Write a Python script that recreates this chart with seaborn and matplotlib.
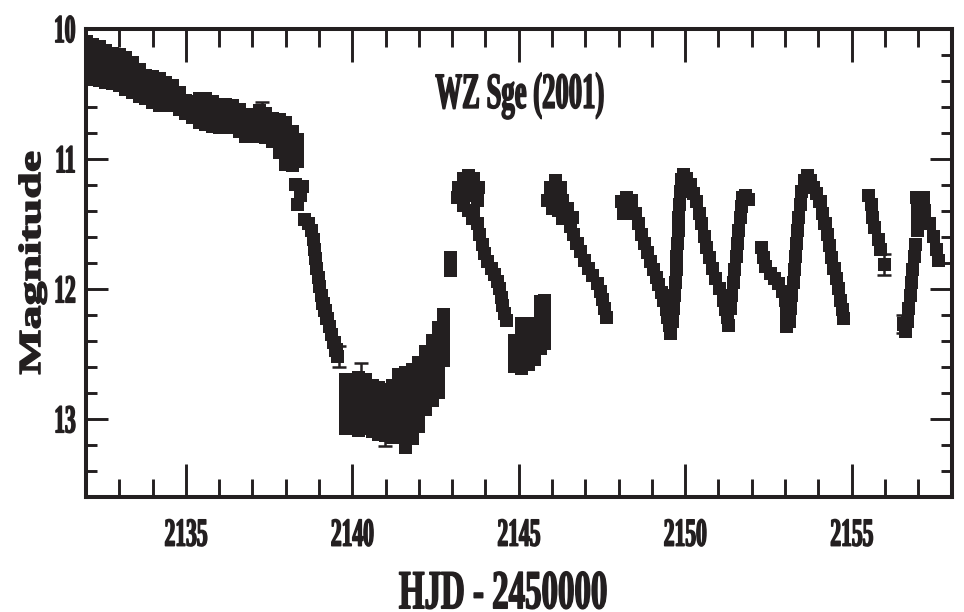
import matplotlib
matplotlib.use("Agg")
import matplotlib.pyplot as plt
import numpy as np
import pandas as pd
import seaborn as sns
from matplotlib.patheffects import AbstractPathEffect
from matplotlib.transforms import Affine2D
from matplotlib.ticker import MultipleLocator

INK = "#231f20"

# WZ Sge 2001 superoutburst: (HJD - 2450000, magnitude) pairs, one list per stretch
plateau = [
    (2132.0, 10.10), (2132.0, 10.20), (2132.0, 10.30), (2132.0, 10.38),
    (2132.2, 10.12), (2132.2, 10.22), (2132.2, 10.31), (2132.2, 10.39),
    (2132.4, 10.14), (2132.4, 10.23), (2132.4, 10.32), (2132.4, 10.40),
    (2132.6, 10.17), (2132.6, 10.25), (2132.6, 10.33), (2132.6, 10.41),
    (2132.8, 10.19), (2132.8, 10.27), (2132.8, 10.35), (2132.8, 10.42),
    (2133.0, 10.20), (2133.0, 10.29), (2133.0, 10.37), (2133.0, 10.44),
    (2133.2, 10.22), (2133.2, 10.31), (2133.2, 10.39), (2133.2, 10.47),
    (2133.4, 10.26), (2133.4, 10.34), (2133.4, 10.42), (2133.4, 10.49),
    (2133.6, 10.31), (2133.6, 10.38), (2133.6, 10.45), (2133.6, 10.52),
    (2133.8, 10.36), (2133.8, 10.42), (2133.8, 10.48), (2133.8, 10.54),
    (2134.0, 10.37), (2134.0, 10.44), (2134.0, 10.51), (2134.0, 10.57),
    (2134.2, 10.38), (2134.2, 10.46), (2134.2, 10.53), (2134.2, 10.59),
    (2134.4, 10.41), (2134.4, 10.48), (2134.4, 10.54), (2134.4, 10.59),
    (2134.6, 10.44), (2134.6, 10.50), (2134.6, 10.55), (2134.6, 10.59),
    (2134.8, 10.49), (2134.8, 10.54), (2134.8, 10.58), (2134.8, 10.62),
    (2135.0, 10.55), (2135.0, 10.60), (2135.0, 10.65),
    (2135.2, 10.56), (2135.2, 10.62), (2135.2, 10.68),
    (2135.4, 10.54), (2135.4, 10.63), (2135.4, 10.72),
    (2135.6, 10.54), (2135.6, 10.64), (2135.6, 10.74),
    (2135.8, 10.56), (2135.8, 10.65), (2135.8, 10.75),
    (2136.0, 10.58), (2136.0, 10.67), (2136.0, 10.76),
    (2136.2, 10.58), (2136.2, 10.67), (2136.2, 10.76),
    (2136.4, 10.59), (2136.4, 10.68), (2136.4, 10.76),
    (2136.6, 10.62), (2136.6, 10.71), (2136.6, 10.79),
    (2136.8, 10.66), (2136.8, 10.74), (2136.8, 10.83),
    (2137.0, 10.66), (2137.0, 10.74), (2137.0, 10.83),
    (2137.2, 10.63), (2137.2, 10.72), (2137.2, 10.82),
    (2137.4, 10.65), (2137.4, 10.74), (2137.4, 10.84),
    (2137.6, 10.69), (2137.6, 10.78), (2137.6, 10.87),
    (2137.8, 10.70), (2137.8, 10.79), (2137.8, 10.87), (2137.8, 10.95),
    (2138.0, 10.72), (2138.0, 10.82), (2138.0, 10.93), (2138.0, 11.04),
    (2138.2, 10.79), (2138.2, 10.88), (2138.2, 10.97), (2138.2, 11.05),
    (2138.35, 10.85), (2138.35, 10.94), (2138.35, 11.02),
]

decline = [
    (2138.30, 11.20), (2138.45, 11.28), (2138.35, 11.35), (2138.50, 11.21),
    (2138.55, 11.47), (2138.68, 11.50), (2138.78, 11.55), (2138.84, 11.62),
    (2138.87, 11.70), (2138.90, 11.77), (2138.93, 11.84), (2138.97, 11.91),
    (2139.01, 11.98), (2139.06, 12.05), (2139.12, 12.11), (2139.18, 12.17),
    (2139.24, 12.23), (2139.31, 12.29), (2139.38, 12.35), (2139.45, 12.41),
    (2139.51, 12.47), (2139.56, 12.52),
]

dip = [
    (2139.8, 12.70), (2139.8, 12.80), (2139.8, 12.90), (2139.8, 13.00), (2139.8, 13.07),
    (2140.0, 12.70), (2140.0, 12.79), (2140.0, 12.88), (2140.0, 12.97), (2140.0, 13.06),
    (2140.2, 12.68), (2140.2, 12.77), (2140.2, 12.86), (2140.2, 12.95), (2140.2, 13.04), (2140.2, 13.09),
    (2140.4, 12.70), (2140.4, 12.80), (2140.4, 12.89), (2140.4, 12.98), (2140.4, 13.07),
    (2140.6, 12.74), (2140.6, 12.83), (2140.6, 12.92), (2140.6, 13.01), (2140.6, 13.10),
    (2140.8, 12.76), (2140.8, 12.85), (2140.8, 12.94), (2140.8, 13.03), (2140.8, 13.12),
    (2141.0, 12.77), (2141.0, 12.86), (2141.0, 12.95), (2141.0, 13.04), (2141.0, 13.13),
    (2141.2, 12.74), (2141.2, 12.83), (2141.2, 12.92), (2141.2, 13.01), (2141.2, 13.10), (2141.2, 13.14),
    (2141.4, 12.66), (2141.4, 12.75), (2141.4, 12.84), (2141.4, 12.93), (2141.4, 13.02), (2141.4, 13.11),
    (2141.6, 12.64), (2141.6, 12.73), (2141.6, 12.82), (2141.6, 12.91), (2141.6, 13.00), (2141.6, 13.09),
    (2141.6, 13.18), (2141.6, 13.22),
    (2141.8, 12.62), (2141.8, 12.71), (2141.8, 12.80), (2141.8, 12.89), (2141.8, 12.98), (2141.8, 13.07),
    (2141.8, 13.15),
    (2142.0, 12.57), (2142.0, 12.66), (2142.0, 12.75), (2142.0, 12.84), (2142.0, 12.93), (2142.0, 13.02),
    (2142.0, 13.06),
    (2142.2, 12.48), (2142.2, 12.57), (2142.2, 12.66), (2142.2, 12.75), (2142.2, 12.84), (2142.2, 12.93),
    (2142.4, 12.40), (2142.4, 12.49), (2142.4, 12.58), (2142.4, 12.67), (2142.4, 12.76), (2142.4, 12.86),
    (2142.6, 12.30), (2142.6, 12.40), (2142.6, 12.50), (2142.6, 12.60), (2142.6, 12.70), (2142.6, 12.80),
    (2142.75, 12.20), (2142.75, 12.28), (2142.75, 12.36), (2142.75, 12.45), (2142.75, 12.55),
    (2142.95, 11.76), (2142.95, 11.86),
]

echo1 = [
    (2143.15, 11.30), (2143.20, 11.22), (2143.35, 11.15), (2143.50, 11.13), (2143.65, 11.15),
    (2143.80, 11.22), (2143.30, 11.30), (2143.55, 11.26), (2143.75, 11.32),
    (2143.35, 11.36), (2143.50, 11.40), (2143.60, 11.46), (2143.40, 11.28), (2143.45, 11.21),
    (2143.65, 11.42), (2143.75, 11.50), (2143.82, 11.58), (2143.90, 11.66), (2143.98, 11.73),
    (2144.07, 11.79), (2144.17, 11.84), (2144.26, 11.89), (2144.35, 11.94), (2144.42, 12.00),
    (2144.47, 12.07), (2144.52, 12.13), (2144.58, 12.19), (2144.62, 12.24),
]

rise1 = [
    (2144.88, 12.40), (2144.88, 12.50), (2144.88, 12.60),
    (2145.08, 12.27), (2145.08, 12.36), (2145.08, 12.45), (2145.08, 12.54), (2145.08, 12.61),
    (2145.28, 12.27), (2145.28, 12.36), (2145.28, 12.45), (2145.28, 12.54), (2145.28, 12.58),
    (2145.48, 12.27), (2145.48, 12.36), (2145.48, 12.45), (2145.48, 12.54),
    (2145.66, 12.10), (2145.66, 12.19), (2145.66, 12.28), (2145.66, 12.37), (2145.66, 12.46),
    (2145.78, 12.09), (2145.78, 12.18), (2145.78, 12.27), (2145.78, 12.36), (2145.78, 12.42),
]

echo2 = [
    (2145.85, 11.32), (2145.95, 11.22), (2146.10, 11.17), (2146.25, 11.22), (2146.05, 11.30),
    (2146.00, 11.38), (2146.18, 11.40), (2146.32, 11.46), (2146.15, 11.30),
    (2146.30, 11.32), (2146.45, 11.38), (2146.60, 11.45), (2146.45, 11.46), (2146.55, 11.52),
    (2146.65, 11.58), (2146.75, 11.65), (2146.85, 11.71), (2146.98, 11.78), (2147.10, 11.84),
    (2147.23, 11.90), (2147.36, 11.96), (2147.45, 12.02), (2147.53, 12.08), (2147.59, 12.15),
    (2147.64, 12.22),
]

echo3 = [
    (2148.10, 11.33), (2148.15, 11.42), (2148.25, 11.30), (2148.40, 11.32), (2148.30, 11.38),
    (2148.50, 11.42), (2148.60, 11.50), (2148.70, 11.58), (2148.78, 11.65), (2148.86, 11.72),
    (2148.96, 11.79), (2149.05, 11.85), (2149.13, 11.91), (2149.20, 11.97), (2149.28, 12.03),
    (2149.36, 12.09), (2149.43, 12.16), (2149.48, 12.22), (2149.53, 12.28), (2149.57, 12.34),
    (2149.62, 12.25), (2149.66, 12.15), (2149.69, 12.05), (2149.71, 11.95), (2149.73, 11.85),
    (2149.75, 11.75), (2149.77, 11.65), (2149.79, 11.55), (2149.81, 11.45), (2149.83, 11.35),
    (2149.85, 11.25), (2149.88, 11.16), (2149.95, 11.12), (2150.05, 11.15),
]

echo4 = [
    (2150.15, 11.20), (2150.25, 11.27), (2150.34, 11.33), (2150.42, 11.42), (2150.50, 11.50),
    (2150.57, 11.60), (2150.65, 11.68), (2150.74, 11.76), (2150.82, 11.84), (2150.92, 11.92),
    (2151.03, 12.00), (2151.14, 12.09), (2151.20, 12.16), (2151.26, 12.22), (2151.30, 12.28),
    (2151.35, 12.15), (2151.40, 12.05), (2151.45, 11.95), (2151.49, 11.85), (2151.53, 11.75),
    (2151.57, 11.65), (2151.61, 11.55), (2151.65, 11.45), (2151.69, 11.37), (2151.73, 11.30),
    (2151.80, 11.28), (2151.90, 11.31),
]

echo5 = [
    (2152.30, 11.68), (2152.35, 11.76), (2152.42, 11.83), (2152.55, 11.88), (2152.68, 11.92),
    (2152.80, 11.96), (2152.92, 12.02), (2153.00, 12.09), (2153.03, 12.16), (2153.05, 12.23),
    (2153.05, 12.29),
    (2153.12, 12.25), (2153.16, 12.15), (2153.20, 12.05), (2153.24, 11.95), (2153.28, 11.85),
    (2153.31, 11.75), (2153.34, 11.65), (2153.37, 11.55), (2153.41, 11.45), (2153.45, 11.35),
    (2153.50, 11.25), (2153.57, 11.17), (2153.67, 11.13), (2153.77, 11.17),
]

echo6 = [
    (2153.85, 11.22), (2153.95, 11.27), (2154.05, 11.33), (2154.13, 11.42), (2154.20, 11.50),
    (2154.27, 11.58), (2154.33, 11.67), (2154.40, 11.76), (2154.47, 11.84), (2154.54, 11.92),
    (2154.61, 12.00), (2154.68, 12.09), (2154.73, 12.16), (2154.77, 12.23),
]

echo7 = [
    (2155.50, 11.28), (2155.60, 11.35), (2155.63, 11.45), (2155.70, 11.53), (2155.80, 11.62),
    (2155.88, 11.70), (2155.98, 11.81),
    (2156.55, 12.27), (2156.62, 12.33), (2156.68, 12.25), (2156.72, 12.15), (2156.76, 12.05),
    (2156.80, 11.95), (2156.84, 11.85), (2156.88, 11.75), (2156.92, 11.66), (2156.97, 11.55),
    (2156.99, 11.47),
    (2156.95, 11.30), (2157.15, 11.30), (2156.98, 11.40), (2157.20, 11.40), (2157.35, 11.50),
    (2157.45, 11.60), (2157.55, 11.70), (2157.62, 11.78),
]

# points drawn with their photometric error bars
err_hjd = [2137.30, 2139.60, 2140.25, 2140.97, 2155.98, 2156.55]
err_mag = [10.66, 12.52, 12.66, 13.12, 11.81, 12.27]
err_sig = [0.10, 0.08, 0.09, 0.09, 0.08, 0.07]

x_major = [2135, 2140, 2145, 2150, 2155]
x_labels = ["2135", "2140", "2145", "2150", "2155"]
y_major = [10, 11, 12, 13]
y_labels = ["10", "11", "12", "13"]


class Tall(AbstractPathEffect):
    """Stretch a text path vertically about its centre and thicken its strokes."""

    def __init__(self, sy, stroke=1.1):
        super().__init__()
        self.sy = sy
        self.stroke = stroke

    def draw_path(self, renderer, gc, tpath, affine, rgbFace=None):
        ext = affine.transform_path(tpath).get_extents()
        y0 = 0.5 * (ext.y0 + ext.y1)
        stretch = Affine2D().translate(0, -y0).scale(1.0, self.sy).translate(0, y0)
        trans = (affine + stretch).frozen()
        gc0 = renderer.new_gc()
        gc0.copy_properties(gc)
        gc0.set_linewidth(self.stroke)
        gc0.set_joinstyle("round")
        if rgbFace is not None:
            gc0.set_foreground(rgbFace, isRGBA=len(rgbFace) == 4)
        renderer.draw_path(gc0, tpath, trans, rgbFace)
        gc0.restore()


sns.set_theme(style="ticks")
plt.rcParams["font.family"] = ["Liberation Serif", "DejaVu Serif"]
plt.rcParams["font.weight"] = "bold"

segments = [plateau, decline, dip, echo1, rise1, echo2, echo3, echo4, echo5, echo6, echo7]
df = pd.DataFrame([p for seg in segments for p in seg], columns=["hjd", "mag"])

fig, ax = plt.subplots(figsize=(9.64, 6.12), dpi=100)
fig.subplots_adjust(left=86 / 964, right=951.5 / 964, bottom=1 - 497 / 612, top=1 - 28.7 / 612)
ax.set_facecolor("white")

sns.scatterplot(data=df, x="hjd", y="mag", marker="s", s=88, color=INK,
                edgecolor="none", linewidth=0, ax=ax, legend=False, zorder=3)
ax.errorbar(err_hjd, err_mag, yerr=err_sig, fmt="none", ecolor=INK,
            elinewidth=1.8, capsize=5, capthick=1.8, zorder=4)

ax.set_xlim(2132, 2158)
ax.set_ylim(13.6, 10.0)

ax.set_xticks(x_major)
ax.set_xticklabels(x_labels)
ax.set_yticks(y_major)
ax.set_yticklabels(y_labels)
ax.xaxis.set_minor_locator(MultipleLocator(1))
ax.yaxis.set_minor_locator(MultipleLocator(0.2))

ax.tick_params(which="both", direction="in", top=True, right=True,
               color=INK, width=2.1, labelcolor=INK)
ax.tick_params(axis="x", which="major", length=24, pad=20, labelsize=15.5)
ax.tick_params(axis="x", which="minor", length=13)
ax.tick_params(axis="y", which="major", length=15.5, pad=7.5, labelsize=15.5)
ax.tick_params(axis="y", which="minor", length=8)

for side in ["left", "right", "top", "bottom"]:
    ax.spines[side].set_visible(True)
    ax.spines[side].set_color(INK)
    ax.spines[side].set_linewidth(2.9)

for lab in ax.get_xticklabels() + ax.get_yticklabels():
    lab.set_path_effects([Tall(1.84)])
    lab.set_fontweight("bold")

ax.set_xlabel("HJD - 2450000", fontsize=23.7, fontweight="bold", color=INK,
              va="center", path_effects=[Tall(1.67)])
ax.xaxis.set_label_coords(0.482, -0.204)
ax.set_ylabel("Magnitude", fontsize=22, fontweight="bold", color=INK,
              va="center", path_effects=[Tall(1.57)])
ax.yaxis.set_label_coords(-0.0618, 0.5)

ax.text(0.501, 0.857, "WZ Sge (2001)", transform=ax.transAxes, ha="center", va="center",
        fontsize=19.2, fontweight="bold", color=INK, path_effects=[Tall(1.9)])

fig.savefig("out.png", dpi=100)
